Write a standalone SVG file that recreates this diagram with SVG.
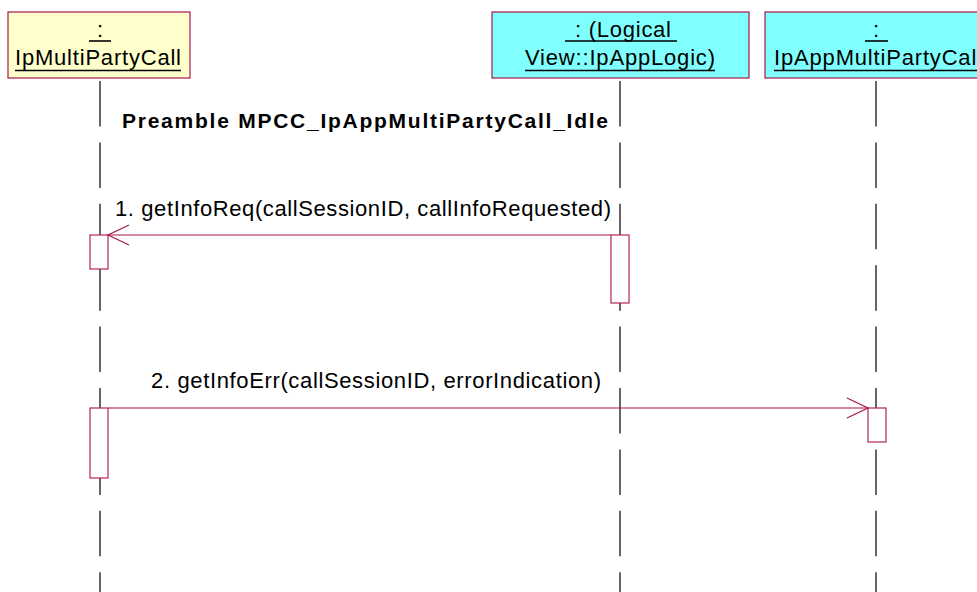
<svg xmlns="http://www.w3.org/2000/svg" width="977" height="592" viewBox="0 0 977 592">
<style>
.obj{stroke:#a8174a;stroke-width:1.2}
.y{fill:#ffffcc}
.c{fill:#80ffff}
.t{font-family:"Liberation Sans",Arial,sans-serif;font-size:22px;fill:#000}
.u{stroke:#000;stroke-width:1.6}
.life{stroke:#000;stroke-width:1.2;stroke-dasharray:45.5 15.9;fill:none}
.act{fill:#fff;stroke:#b8245a;stroke-width:1.2}
.msg{stroke:#a8174a;stroke-width:1.2;fill:none}
.b{font-family:"Liberation Sans",Arial,sans-serif;font-size:21px;font-weight:bold;fill:#000}
</style>
<rect width="977" height="592" fill="#fff"/>
<g id="lifelines">
<line class="life" x1="100" y1="81" x2="100" y2="592"/>
<line class="life" x1="620" y1="81" x2="620" y2="592"/>
<line class="life" x1="876" y1="81" x2="876" y2="592"/>
</g>
<g id="obj1">
<rect class="obj y" x="8" y="12" width="182" height="66"/>
<text class="t" x="100" y="37" text-anchor="middle">:</text>
<line class="u" x1="89" y1="41" x2="111" y2="41"/>
<text class="t" x="15" y="65" textLength="166" lengthAdjust="spacing">IpMultiPartyCall</text>
<line class="u" x1="15" y1="70.5" x2="181" y2="70.5"/>
</g>
<g id="obj2">
<rect class="obj c" x="492" y="12" width="257" height="66"/>
<text class="t" x="575" y="37" textLength="96" lengthAdjust="spacing">: (Logical</text>
<line class="u" x1="565" y1="41" x2="677" y2="41"/>
<text class="t" x="525" y="65" textLength="190" lengthAdjust="spacing">View::IpAppLogic)</text>
<line class="u" x1="525" y1="70.5" x2="715" y2="70.5"/>
</g>
<g id="obj3">
<rect class="obj c" x="765" y="12" width="222" height="66"/>
<text class="t" x="876" y="37" text-anchor="middle">:</text>
<line class="u" x1="865" y1="41" x2="888" y2="41"/>
<text class="t" x="774" y="65" textLength="208" lengthAdjust="spacing">IpAppMultiPartyCall</text>
<line class="u" x1="774" y1="70.5" x2="982" y2="70.5"/>
</g>
<g id="preamble">
<text class="b" x="122" y="128" textLength="486" lengthAdjust="spacing">Preamble MPCC_IpAppMultiPartyCall_Idle</text>
</g>
<g id="activations">
<rect class="act" x="90" y="235" width="18" height="34"/>
<rect class="act" x="611" y="235" width="18" height="68"/>
<rect class="act" x="90" y="408" width="18" height="70"/>
<rect class="act" x="868" y="408" width="18" height="34"/>
</g>
<g id="connectors">
<line class="msg" x1="611" y1="235" x2="108" y2="235"/>
<polyline class="msg" points="129,225 108,235 129,245"/>
<text class="t" x="115" y="216" textLength="496" lengthAdjust="spacing">1. getInfoReq(callSessionID, callInfoRequested)</text>
<line class="msg" x1="108" y1="408" x2="868" y2="408"/>
<polyline class="msg" points="847,398 868,408 847,418"/>
<text class="t" x="151" y="388" textLength="450" lengthAdjust="spacing">2. getInfoErr(callSessionID, errorIndication)</text>
</g>
</svg>
